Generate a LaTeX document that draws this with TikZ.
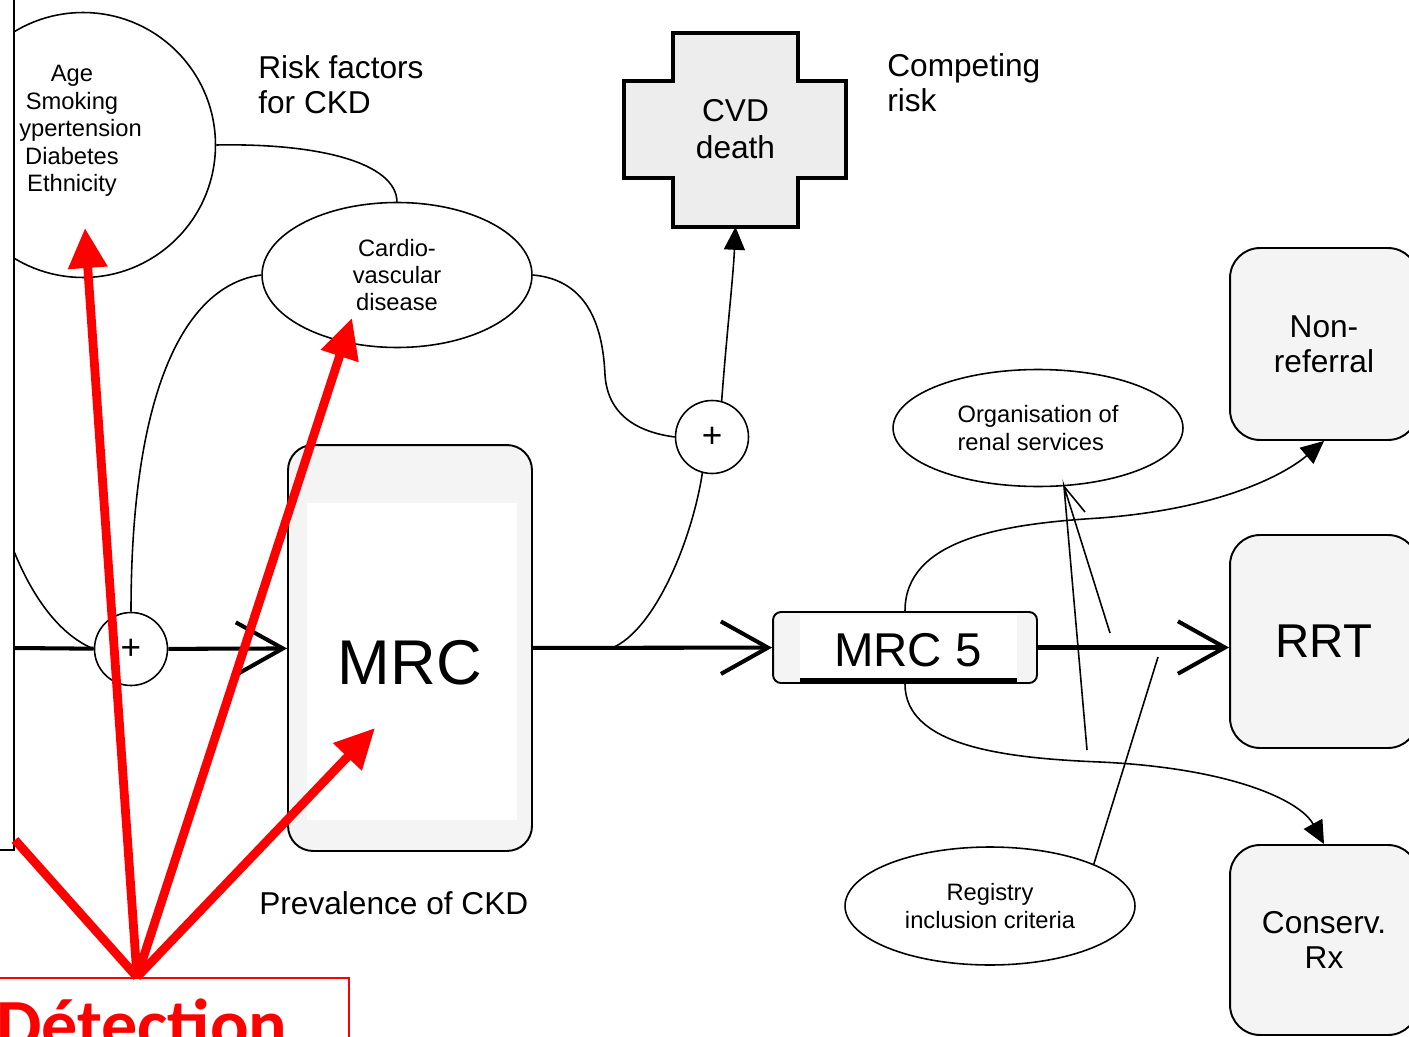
\documentclass[tikz,border=0pt]{standalone}
\usepackage{fontspec}
\setmainfont{Liberation Sans}
\newfontfamily\detfont{Carlito}
\usetikzlibrary{arrows.meta,shapes.geometric}
\definecolor{scangray}{gray}{0.955}
\definecolor{crossgray}{gray}{0.93}
\begin{document}
\begin{tikzpicture}[x=0.02cm,y=-0.02cm,
    wire/.style={line width=0.9pt},
    flowline/.style={line width=2.3pt,-{Straight Barb[length=0.94cm,width=1.05cm]}},
    pointed/.style={-{Triangle[length=0.46cm,width=0.42cm]}},
    redarrow/.style={red,line width=5pt,-{Triangle[length=0.8cm,width=0.75cm]}},
    oval/.style={ellipse,draw,line width=0.9pt,fill=white,inner sep=0,align=center,font=\fontsize{13.5}{15.6}\selectfont},
    plusnode/.style={circle,draw,line width=0.9pt,fill=white,minimum size=1.46cm,inner sep=0,font=\fontsize{20}{20}\selectfont},
    rbox/.style={rectangle,rounded corners=0.6cm,draw,line width=1.1pt,fill=scangray,minimum width=3.76cm,align=center,font=\fontsize{18}{20}\selectfont},
    lbl/.style={inner sep=0,align=left,font=\fontsize{18}{20}\selectfont}]
  \useasboundingbox (0,0) rectangle (1409,1037);

  \draw[line width=2.8pt,fill=crossgray] (673,33) -- (798,33) -- (798,81) -- (846,81) -- (846,178) -- (798,178)
    -- (798,227) -- (673,227) -- (673,178) -- (624,178) -- (624,81) -- (673,81) -- cycle;
  \node[inner sep=0,minimum width=2.5cm,minimum height=3.9cm,align=center,font=\fontsize{18}{21}\selectfont] (cvd) at (735.5,129) {CVD\\death};

  \node[lbl] (riskf) at (258,85) [anchor=west] {Risk factors\\for CKD};
  \node[lbl] (comp) at (887,83) [anchor=west] {Competing\\risk};
  \node[lbl] (prev) at (259,903) [anchor=west] {Prevalence of CKD};

  \node[oval,minimum width=5.4cm,minimum height=2.9cm] (cvdz) at (397,275) {Cardio-\\vascular\\disease};
  \node[oval,minimum width=5.8cm,minimum height=2.34cm,align=left] (org) at (1038,428) {Organisation of\\renal services};
  \node[oval,minimum width=5.8cm,minimum height=2.36cm] (reg) at (990,906) {Registry\\inclusion criteria};

  \node[plusnode] (plus1) at (131,649) {\raisebox{-0.12em}{+}};
  \node[plusnode] (plus2) at (712,437) {\raisebox{-0.12em}{+}};

  \node[rectangle,rounded corners=0.5cm,draw,line width=1.1pt,fill=scangray,minimum width=4.88cm,minimum height=8.12cm] (mrc) at (410,648) {};
  \fill[white] (307,503) rectangle (517,820);
  \node[font=\fontsize{36}{36}\selectfont] (mrctxt) at (410,663) {MRC};

  \node[rectangle,rounded corners=0.16cm,draw,line width=1.1pt,fill=scangray,minimum width=5.28cm,minimum height=1.42cm] (mrc5) at (905,647.5) {};
  \fill[white] (800,615) rectangle (1017,680);
  \draw[line width=3pt] (800,681) -- (1017,681);
  \node[font=\fontsize{27}{27}\selectfont] (mrc5txt) at (908,650) {MRC 5};

  \node[rbox,minimum height=3.84cm] (nonref) at (1324,344) {Non-\\referral};
  \node[rbox,minimum height=4.26cm,font=\fontsize{27}{27}\selectfont] (rrt) at (1324,641.5) {RRT};
  \node[rbox,minimum height=3.8cm] (conserv) at (1324,940) {Conserv.\\Rx};

  \begin{scope}
    \clip (14,-20) rectangle (1430,1060);
    \node[circle,draw,line width=0.9pt,minimum size=5.3cm,inner sep=0] (age) at (83,145) {};
    \draw[wire] (age.215) .. controls (-40,400) and (0,610) .. (plus1.west);
  \end{scope}
  \node[inner sep=0,align=center,font=\fontsize{13.5}{15.6}\selectfont] (agetxt) at (72,131) {Age\\Smoking\\\phantom{H}ypertension\\Diabetes\\Ethnicity};

  \coordinate (lin) at (14,648);
  \coordinate (split) at (612,648);
  \coordinate (orgfoot) at (1087,750);
  \coordinate (orgtoe) at (1110,633);
  \coordinate (orgbarb) at (1085,512);
  \coordinate (regtop) at (1158,657);

  \draw[wire] (age.east) .. controls (320,143) and (396,163) .. (cvdz.north);
  \draw[wire] (cvdz.west) .. controls (185,285) and (131,390) .. (plus1.north);
  \draw[wire] (cvdz.east) .. controls (590,280) and (603,330) .. (605,375) .. controls (608,420) and (645,433) .. (plus2.west);
  \draw[wire] (split) .. controls (655,630) and (692,540) .. (plus2.255);
  \draw[wire,pointed] (plus2.75) .. controls (727,330) and (733,280) .. (cvd.south);

  \draw[line width=2.3pt] (lin) -- (plus1);
  \draw[flowline] (plus1) -- (mrc);
  \draw[flowline] (mrc) -- (mrc5);
  \draw[flowline] (mrc5.east) -- (mrc5.east -| rrt.west);

  \draw[wire,pointed] (mrc5.north) .. controls (905,540) and (1000,524) .. (1100,518) .. controls (1230,508) and (1290,470) .. (nonref.south);
  \draw[wire,pointed] (mrc5.south) .. controls (905,745) and (1000,758) .. (1100,762) .. controls (1230,768) and (1300,800) .. (conserv.north);

  \draw[wire] (orgfoot) -- (org.294) -- (orgtoe);
  \draw[wire] (org.294) -- (orgbarb);
  \draw[wire] (reg.22) -- (regtop);

  \draw[line width=1pt] (14,0) -- (14,850) -- (0,850);

  \node[draw=red,line width=1.2pt,minimum width=8.48cm,minimum height=3cm,anchor=north,inner sep=0] (detbox) at (137,977) {};
  \node[anchor=base west,inner sep=0,text=red,font=\detfont\bfseries\fontsize{41}{41}\selectfont] (dettxt) at (-4,1049) {Détection};

  \coordinate (hitage) at (85,228);
  \coordinate (hitcvd) at (352,318);
  \coordinate (hitmrc) at (375,728);
  \coordinate (hitframe) at (15,840);
  \draw[red,line width=5pt] (detbox.north) -- (hitframe);
  \draw[redarrow] (detbox.north) -- (hitage);
  \draw[redarrow] (detbox.north) -- (hitcvd);
  \draw[redarrow] (detbox.north) -- (hitmrc);
\end{tikzpicture}
\end{document}
